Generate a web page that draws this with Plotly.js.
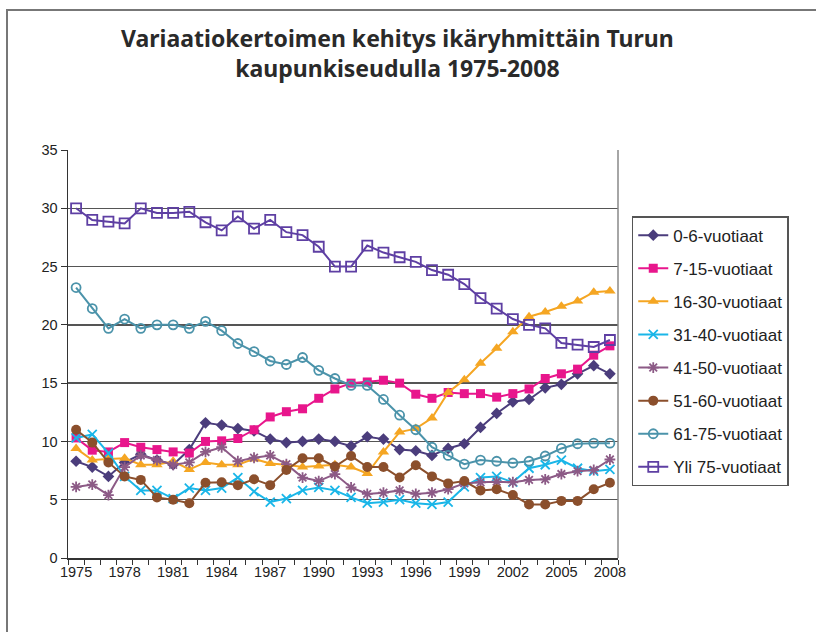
<!DOCTYPE html>
<html>
<head>
<meta charset="utf-8">
<script src="https://cdn.plot.ly/plotly-3.0.1.min.js"></script>
<style>
  body { margin: 0; background: #fff; }
  #frame { position: absolute; left: 6px; top: 9px; width: 840px; height: 700px;
           border-left: 2px solid #777; border-top: 2px solid #777; pointer-events: none; }
  #chart { position: absolute; left: 0; top: 0; width: 816px; height: 632px; }
</style>
</head>
<body>
<div id="chart"></div>
<div id="frame"></div>
<script>
var years = [];
for (var y = 1975; y <= 2008; y++) years.push(y);

var tickYears = [1975, 1978, 1981, 1984, 1987, 1990, 1993, 1996, 1999, 2002, 2005, 2008];

var age0_6   = [8.3, 7.8, 7.0, 8.2, 8.9, 8.4, 8.0, 9.3, 11.6, 11.4, 11.1, 10.9, 10.2, 9.9, 10.0, 10.2, 10.0, 9.6, 10.4, 10.2, 9.3, 9.2, 8.8, 9.4, 9.8, 11.2, 12.4, 13.4, 13.6, 14.6, 14.9, 15.8, 16.5, 15.8];
var age7_15  = [10.3, 9.25, 9.1, 9.9, 9.5, 9.3, 9.1, 9.0, 10.0, 10.05, 10.25, 11.0, 12.1, 12.55, 12.8, 13.7, 14.5, 15.0, 15.1, 15.25, 15.0, 14.05, 13.7, 14.2, 14.1, 14.1, 13.8, 14.1, 14.5, 15.4, 15.8, 16.2, 17.4, 18.2];
var age16_30 = [9.4, 8.4, 8.5, 8.55, 8.0, 8.0, 8.3, 7.6, 8.2, 8.0, 8.0, 8.5, 8.1, 8.0, 7.8, 7.9, 8.0, 7.8, 7.25, 9.1, 10.8, 11.1, 12.0, 14.2, 15.3, 16.7, 18.0, 19.4, 20.7, 21.1, 21.6, 22.05, 22.8, 22.9];
var age31_40 = [10.3, 10.6, 9.0, 7.0, 5.8, 5.8, 5.1, 6.0, 5.8, 6.0, 6.9, 5.7, 4.8, 5.1, 5.8, 6.05, 5.8, 5.2, 4.7, 4.8, 5.0, 4.7, 4.6, 4.8, 6.1, 6.9, 7.0, 6.5, 7.7, 8.0, 8.4, 7.7, 7.45, 7.6];
var age41_50 = [6.1, 6.3, 5.4, 7.8, 8.8, 8.4, 8.0, 8.2, 9.1, 9.5, 8.3, 8.6, 8.8, 8.05, 6.9, 6.6, 7.2, 6.05, 5.5, 5.6, 5.8, 5.5, 5.6, 5.9, 6.4, 6.5, 6.55, 6.5, 6.7, 6.75, 7.2, 7.45, 7.55, 8.45];
var age51_60 = [11.0, 9.9, 8.2, 7.0, 6.7, 5.2, 5.0, 4.7, 6.45, 6.5, 6.25, 6.75, 6.25, 7.55, 8.55, 8.55, 7.85, 8.75, 7.8, 7.8, 6.9, 7.95, 7.0, 6.4, 6.6, 5.8, 5.9, 5.4, 4.6, 4.6, 4.9, 4.9, 5.9, 6.45];
var age61_75 = [23.2, 21.4, 19.7, 20.5, 19.7, 20.0, 20.0, 19.7, 20.3, 19.5, 18.4, 17.7, 16.9, 16.6, 17.2, 16.1, 15.4, 14.8, 14.8, 13.6, 12.25, 11.0, 9.5, 8.8, 8.05, 8.4, 8.3, 8.15, 8.3, 8.75, 9.4, 9.8, 9.85, 9.85];
var yli75    = [30.0, 29.0, 28.85, 28.7, 30.0, 29.6, 29.6, 29.7, 28.8, 28.1, 29.3, 28.25, 29.0, 27.95, 27.7, 26.7, 25.0, 25.0, 26.8, 26.2, 25.8, 25.4, 24.7, 24.3, 23.5, 22.3, 21.4, 20.5, 20.0, 19.7, 18.45, 18.3, 18.1, 18.7];

var seriesNames = ['0-6-vuotiaat', '7-15-vuotiaat', '16-30-vuotiaat', '31-40-vuotiaat',
                   '41-50-vuotiaat', '51-60-vuotiaat', '61-75-vuotiaat', 'Yli 75-vuotiaat'];
var seriesData = [age0_6, age7_15, age16_30, age31_40, age41_50, age51_60, age61_75, yli75];
var colors = ['#4B3D7C', '#E8168C', '#F5A623', '#1AB6E8', '#8C5A86', '#8B4F2C', '#4B93AA', '#5E3FA3'];
var symbols = ['diamond', 'square', 'triangle-up', 'x-thin-open', 'asterisk-open', 'circle', 'circle-open', 'square-open'];
var sizes = [9, 9, 10, 9, 9, 10, 9, 10];

var data = seriesData.map(function (vals, i) {
    var open = symbols[i].indexOf('open') >= 0;
    return {
        x: years,
        y: vals,
        name: seriesNames[i],
        legendgroup: 'g' + i,
        type: 'scatter',
        mode: 'lines+markers',
        line: { color: colors[i], width: 2 },
        marker: {
            symbol: symbols[i],
            size: sizes[i],
            color: colors[i],
            line: { color: colors[i], width: open ? 1.8 : 0 }
        }
    };
});

var layout = {
    width: 816,
    height: 632,
    paper_bgcolor: '#ffffff',
    plot_bgcolor: '#ffffff',
    margin: { l: 68, r: 198, t: 150, b: 74 },
    title: {
        text: 'Variaatiokertoimen kehitys ikäryhmittäin Turun<br>kaupunkiseudulla 1975-2008',
        font: { family: 'Noto Sans', size: 23, color: '#2a2a2a', weight: 'bold' },
        x: 0.487,
        xanchor: 'center',
        y: 0.925,
        yanchor: 'middle'
    },
    showlegend: true,
    legend: {
        x: 1.025,
        y: 0.838,
        xanchor: 'left',
        yanchor: 'top',
        traceorder: 'grouped',
        tracegroupgap: 8,
        bordercolor: '#555555',
        borderwidth: 1.5,
        bgcolor: '#ffffff',
        font: { family: 'Liberation Sans', size: 17, color: '#222222' }
    },
    xaxis: {
        range: [1974.5, 2008.5],
        tickvals: tickYears,
        ticktext: tickYears.map(String),
        ticks: '',
        tickfont: { family: 'Liberation Sans', size: 14.5, color: '#222222' },
        showgrid: false,
        zeroline: false,
        showline: true,
        linecolor: '#333333',
        linewidth: 1.5,
        minor: { tickmode: 'linear', tick0: 0.5, dtick: 1, ticks: 'outside', ticklen: 5, tickcolor: '#333333', tickwidth: 1, showgrid: false }
    },
    yaxis: {
        range: [0, 35],
        dtick: 5,
        ticks: 'outside',
        ticklen: 6,
        tickcolor: '#333333',
        tickfont: { family: 'Liberation Sans', size: 14.5, color: '#222222' },
        showgrid: true,
        gridcolor: '#555555',
        gridwidth: 1.5,
        zeroline: false,
        showline: true,
        linecolor: '#333333',
        linewidth: 1.5
    },
    shapes: [{
        type: 'line', xref: 'paper', yref: 'paper',
        x0: 1, x1: 1, y0: 0, y1: 1,
        line: { color: '#888888', width: 1.5 }
    }]
};

Plotly.newPlot(document.getElementById('chart'), data, layout, { displayModeBar: false, staticPlot: true });
</script>
</body>
</html>
